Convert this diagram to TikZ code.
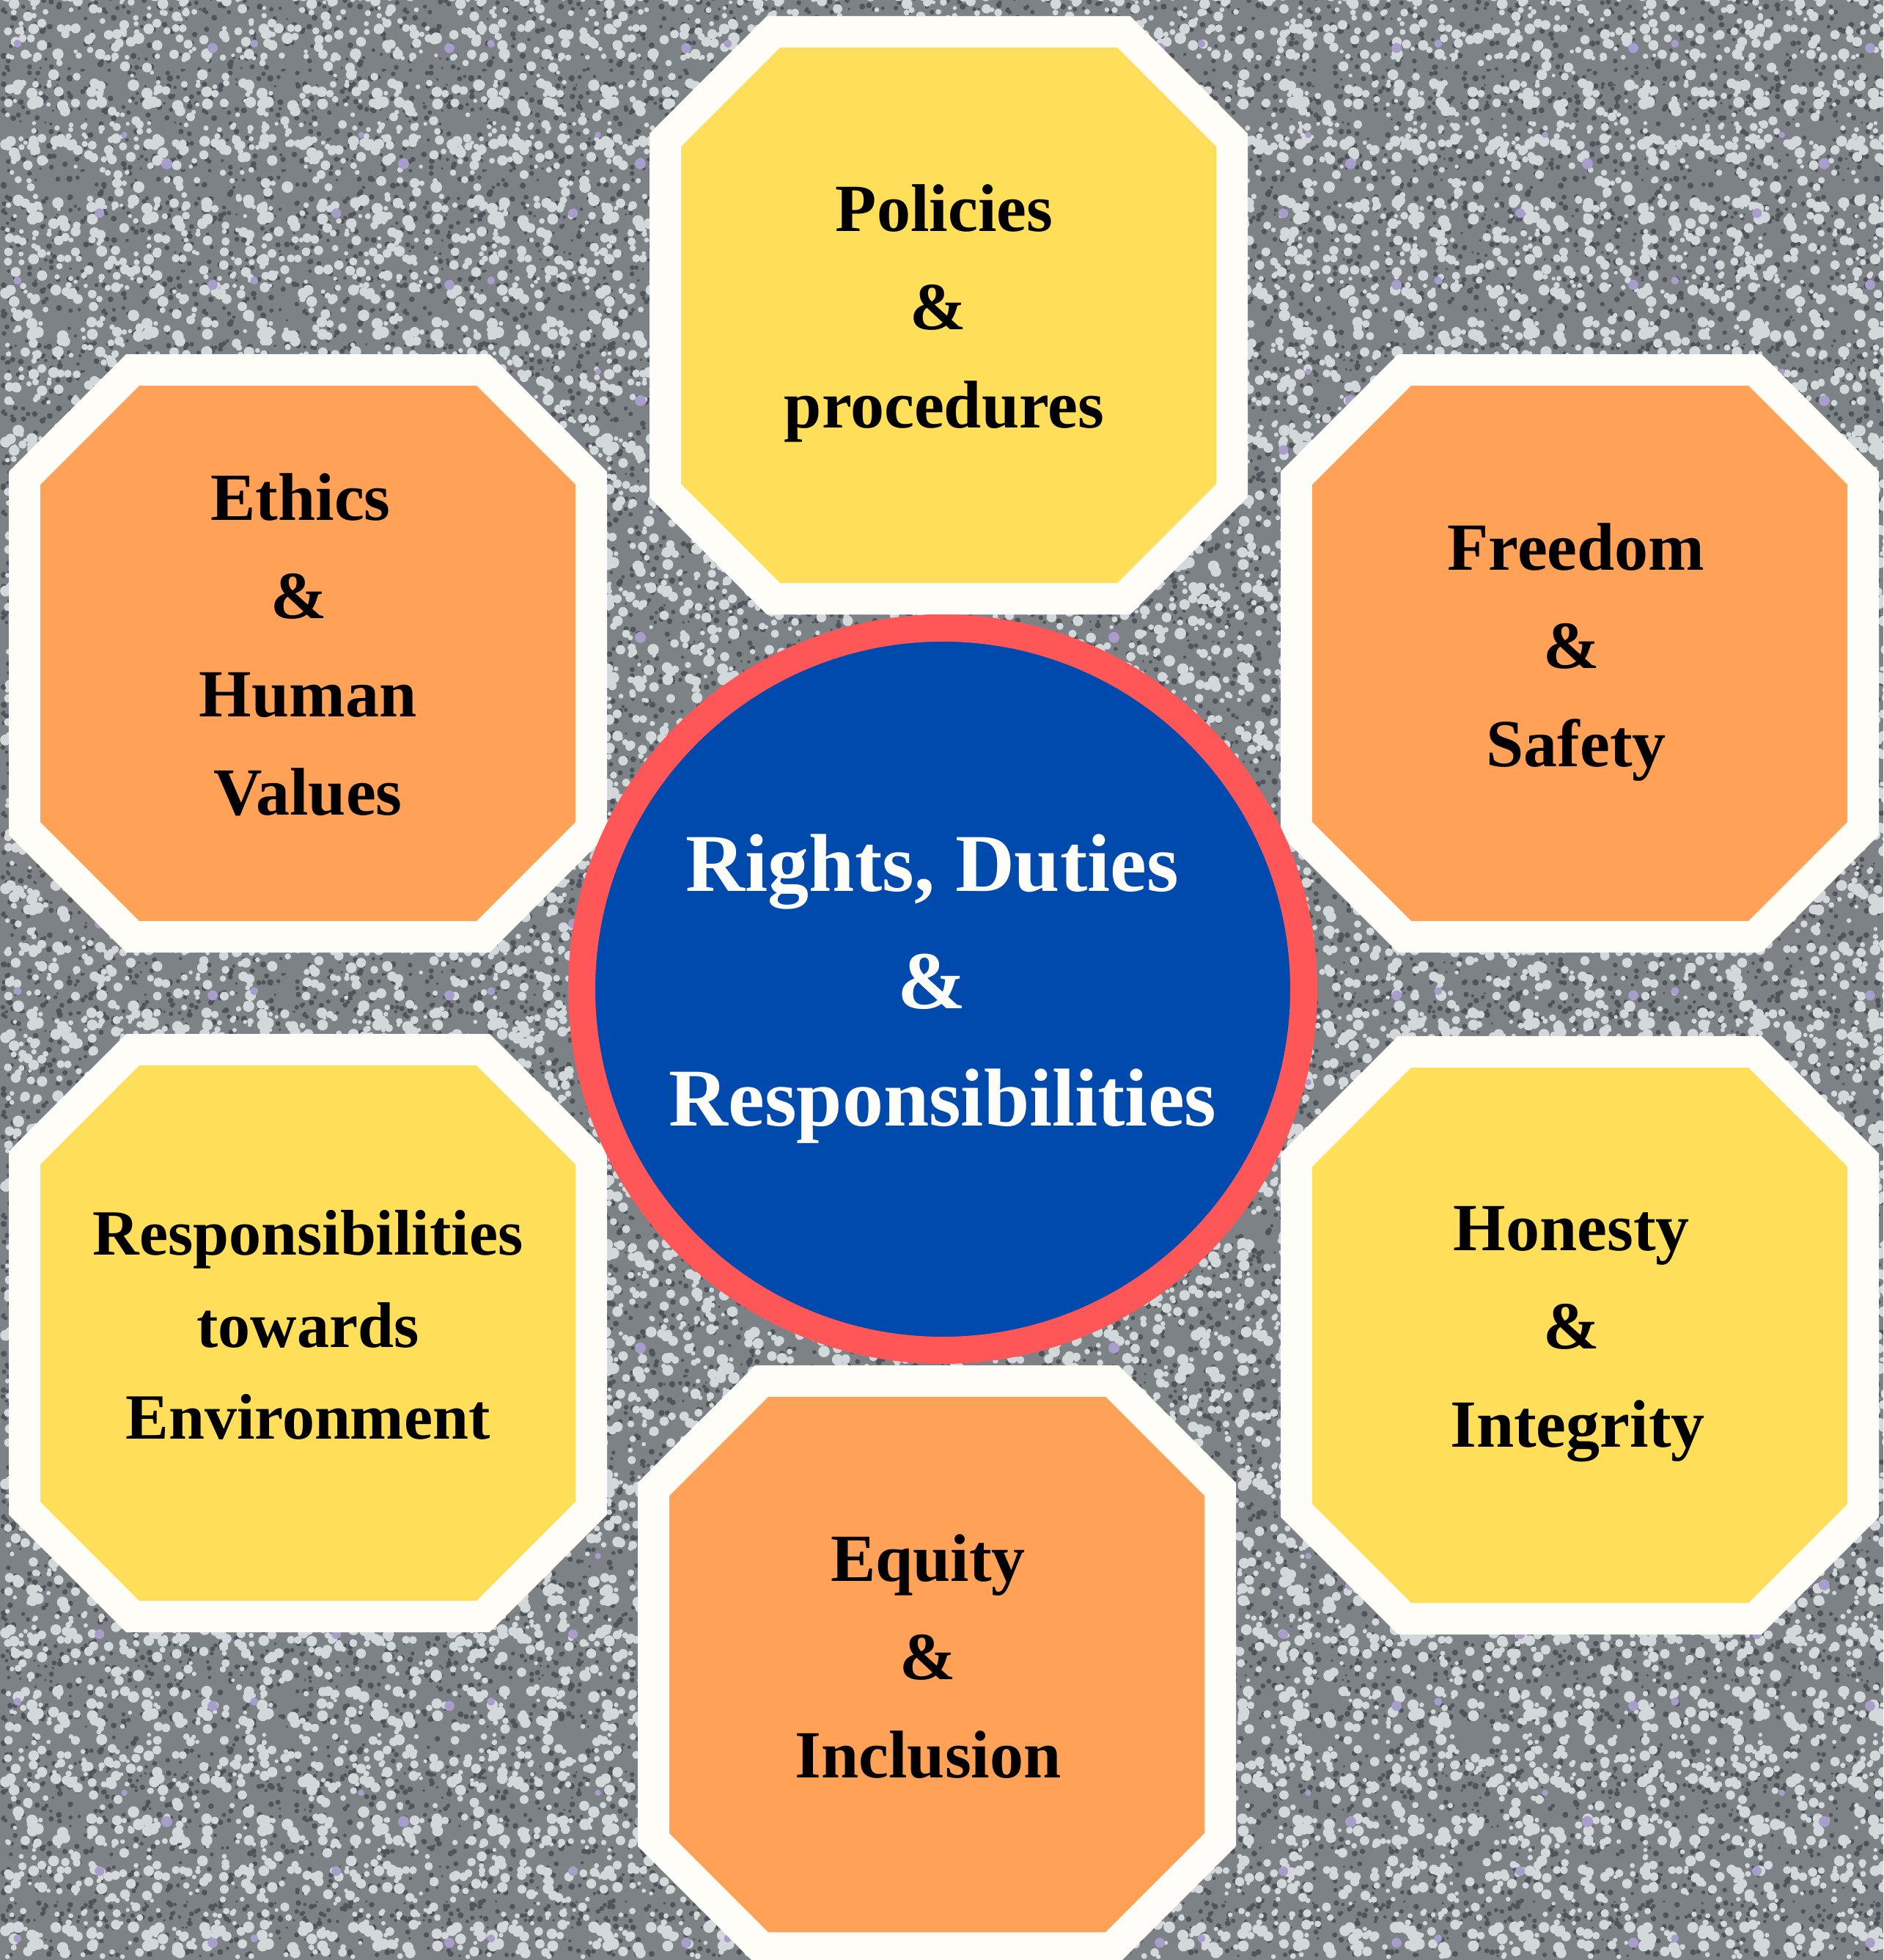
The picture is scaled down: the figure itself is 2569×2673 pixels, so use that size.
\documentclass[tikz,border=0pt]{standalone}
\usepackage{fontspec}
\setmainfont{Liberation Serif}
\usetikzlibrary{patterns}
\definecolor{bggray}{HTML}{7C8286}
\definecolor{glint}{HTML}{D3D8DB}
\definecolor{shade}{HTML}{4F555A}
\definecolor{lilac}{HTML}{A99DCB}
\definecolor{octyellow}{HTML}{FFDE59}
\definecolor{octorange}{HTML}{FFA257}
\definecolor{rimwhite}{HTML}{FFFDF8}
\definecolor{hubblue}{HTML}{004AAD}
\definecolor{hubred}{HTML}{FF5757}
% #1 name, #2 tile size (pt), #3 dots, #4 seed, #5 colour, #6 min radius, #7 radius range
\newcommand{\glitterpattern}[7]{%
  \pgfdeclarepatterninherentlycolored{#1}{\pgfpointorigin}{\pgfqpoint{#2pt}{#2pt}}{\pgfqpoint{#2pt}{#2pt}}{%
    \pgfsetfillcolor{#5}%
    \pgfmathsetseed{#4}%
    \foreach \k in {1,...,#3}{%
      \pgfmathsetmacro{\rr}{#6+rnd*#7}%
      \pgfmathsetmacro{\cx}{\rr+rnd*(#2-2*\rr)}%
      \pgfmathsetmacro{\cy}{\rr+rnd*(#2-2*\rr)}%
      \pgfpathcircle{\pgfpoint{\cx pt}{\cy pt}}{\rr pt}%
      \pgfusepath{fill}%
    }%
  }}
\glitterpattern{darkA}{41}{40}{23}{shade}{0.5}{0.8}
\glitterpattern{darkB}{53}{65}{31}{shade}{0.5}{0.8}
\glitterpattern{lightA}{61}{70}{11}{glint}{0.8}{1.6}
\glitterpattern{lightB}{47}{30}{17}{glint}{0.8}{1.6}
\glitterpattern{lightC}{83}{50}{29}{glint}{0.7}{1.4}
\glitterpattern{lilacA}{97}{5}{5}{lilac}{1.2}{1.8}
\tikzset{
  rim/.style={draw=rimwhite, fill=rimwhite, line width=25.8pt, line join=miter},
  lbl/.style={align=center, text=black, inner sep=0pt,
    font=\fontsize{27.6pt}{40.2pt}\selectfont\bfseries},
  lblsmall/.style={lbl, font=\fontsize{26.4pt}{37.6pt}\selectfont\bfseries},
  hubstyle/.style={circle, fill=hubblue, draw=hubred, line width=11.1pt,
    minimum size=295.5pt, inner sep=0pt, text=rimwhite, align=center,
    font=\fontsize{33.6pt}{48pt}\selectfont\bfseries}
}
\newcommand{\drawoct}[3]{%
  \begin{scope}[shift={(#1,#2)}]
    \path[rim] (-230,-365) -- (230,-365) -- (365,-230) -- (365,230) -- (230,365) -- (-230,365) -- (-365,230) -- (-365,-230) -- cycle;
    \fill[#3] (-230,-365) -- (230,-365) -- (365,-230) -- (365,230) -- (230,365) -- (-230,365) -- (-365,230) -- (-365,-230) -- cycle;
  \end{scope}}
\newcommand{\trail}[1]{\rule{#1}{0pt}}
\begin{document}
\begin{tikzpicture}[x=0.3pt, y=-0.3pt]
\useasboundingbox (0,0) rectangle (2569,2673);
% glitter background
\fill[bggray] (0,0) rectangle (2569,2673);
\foreach \pat in {darkA,darkB,lightA,lightB,lightC,lilacA}{
  \fill[pattern=\pat] (0,0) rectangle (2569,2673);
}
% octagons
\drawoct{1294}{430}{octyellow}
\drawoct{420}{891}{octorange}
\drawoct{2155}{891}{octorange}
\drawoct{420}{1818}{octyellow}
\drawoct{2155}{1821}{octyellow}
\drawoct{1278}{2270}{octorange}
% labels
\node[lbl] (policies) at (1288,427) {Policies\\\&\trail{5pt}\\procedures};
\node[lbl] (ethics) at (420,879) {Ethics\trail{6pt}\\\&\trail{7.2pt}\\Human\\Values};
\node[lbl] (freedom) at (2150,890) {Freedom\\\&\trail{4pt}\\Safety};
\node[lblsmall] (environment) at (420,1807) {Responsibilities\\towards\\Environment};
\node[lbl] (honesty) at (2152,1820) {Honesty\trail{5pt}\\\&\trail{5.1pt}\\Integrity};
\node[lbl] (equity) at (1266,2259) {Equity\\\&\\Inclusion};
% hub
\node[hubstyle] (hub) at (1286,1349) {Rights, Duties\trail{8.4pt}\\\&\trail{9.2pt}\\Responsibilities};
\end{tikzpicture}
\end{document}
